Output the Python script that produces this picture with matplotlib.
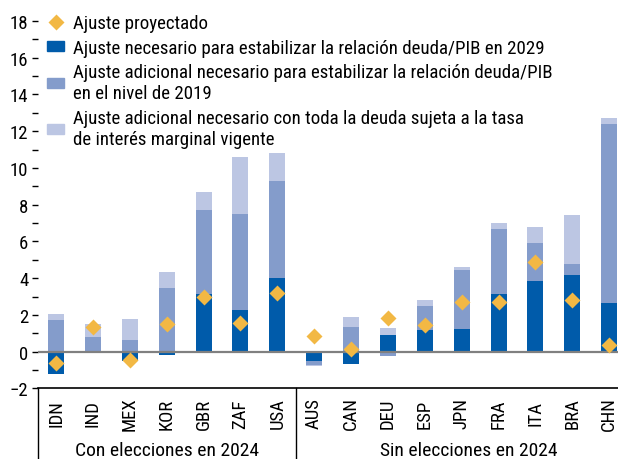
import matplotlib.pyplot as plt
import matplotlib.transforms as mtransforms
from matplotlib.patches import Patch
from matplotlib.lines import Line2D
import numpy as np

plt.rcParams['font.family'] = ['Roboto Condensed', 'Archivo Narrow',
                               'Liberation Sans Narrow', 'DejaVu Sans']

# data
countries = ['IDN', 'IND', 'MEX', 'KOR', 'GBR', 'ZAF', 'USA',
             'AUS', 'CAN', 'DEU', 'ESP', 'JPN', 'FRA', 'ITA', 'BRA', 'CHN']
necesario = [-1.22, 0.05, -0.50, -0.16, 3.14, 2.27, 4.01,
             -0.51, -0.67, 0.91, 1.18, 1.23, 3.14, 3.85, 4.17, 2.65]
adicional_2019 = [1.72, 0.75, 0.64, 3.47, 4.57, 5.23, 5.28,
                  -0.22, 1.34, -0.24, 1.31, 3.22, 3.54, 2.07, 0.60, 9.75]
adicional_marginal = [0.33, 0.70, 1.14, 0.87, 0.98, 3.10, 1.53,
                      -0.05, 0.55, 0.38, 0.32, 0.16, 0.32, 0.87, 2.67, 0.32]
proyectado = [-0.64, 1.36, -0.45, 1.50, 3.00, 1.56, 3.19,
              0.83, 0.13, 1.83, 1.47, 2.72, 2.70, 4.86, 2.81, 0.36]
groups = ['Con elecciones en 2024', 'Sin elecciones en 2024']
n_first = 7

labels = ['Ajuste necesario para estabilizar la relación deuda/PIB en 2029',
          'Ajuste adicional necesario para estabilizar la relación deuda/PIB\nen el nivel de 2019',
          'Ajuste adicional necesario con toda la deuda sujeta a la tasa\nde interés marginal vigente']
colors = ['#005BAA', '#849CCB', '#BCC6E3']
diamond_color = '#F2B844'

fig = plt.figure(figsize=(6.18, 4.6), dpi=100)
ax = fig.add_axes([0.0615, 0.1533, 0.9385, 0.799])

x = np.arange(len(countries))
width = 0.434

# stack positives upwards and negatives downwards
pos_bottom = np.zeros(len(x))
neg_bottom = np.zeros(len(x))
for vals, c in zip([necesario, adicional_2019, adicional_marginal], colors):
    vals = np.array(vals)
    bottom = np.where(vals >= 0, pos_bottom, neg_bottom)
    ax.bar(x, vals, width, bottom=bottom, color=c, zorder=2)
    pos_bottom += np.where(vals >= 0, vals, 0)
    neg_bottom += np.where(vals < 0, vals, 0)

ax.axhline(0, color='#808080', lw=1.6, zorder=3)
ax.plot(x, proyectado, 'D', color=diamond_color, ms=8, mec='none', zorder=4)

ax.set_xlim(-0.488, 15.24)
ax.set_ylim(-2, 18)

# y axis: ticks only, no spine
for s in ['left', 'right', 'top']:
    ax.spines[s].set_visible(False)
ax.spines['bottom'].set_linewidth(1.2)
ax.set_yticks(np.arange(-2, 19, 2))
ax.set_yticklabels([str(v).replace('-', '\u2212') for v in range(-2, 19, 2)])
ax.set_yticks(np.arange(-1, 18, 2), minor=True)
ax.tick_params(axis='y', which='both', length=4, width=1, labelsize=13.5, pad=3)
ax.set_xticks([])

# category table below the axis
trans = mtransforms.blended_transform_factory(ax.transData, ax.transAxes)
for xi, name in zip(x, countries):
    ax.text(xi, -0.0667, name, rotation=90, ha='center', va='center',
            fontsize=13.5, transform=trans)
ax.text((n_first - 1) / 2, -0.168, groups[0], ha='center', va='center',
        fontsize=14, transform=trans)
ax.text((n_first + len(x) - 1) / 2 + 0.2, -0.168, groups[1], ha='center',
        va='center', fontsize=14, transform=trans)
for xv in [-0.488, n_first - 0.5]:
    ax.plot([xv, xv], [0, -0.2], color='black', lw=1, transform=trans,
            clip_on=False)

handles = [Line2D([], [], marker='D', ls='none', color=diamond_color,
                  ms=8, mec='none')]
handles += [Patch(color=c) for c in colors]
leg = ax.legend(handles, ['Ajuste proyectado'] + labels, loc='upper left',
                bbox_to_anchor=(0.003, 1.04), frameon=False, fontsize=13.6,
                handlelength=0.9, handleheight=0.45, handletextpad=0.45,
                labelspacing=0.36, borderaxespad=0)

fig.savefig('out.png', dpi=100)
